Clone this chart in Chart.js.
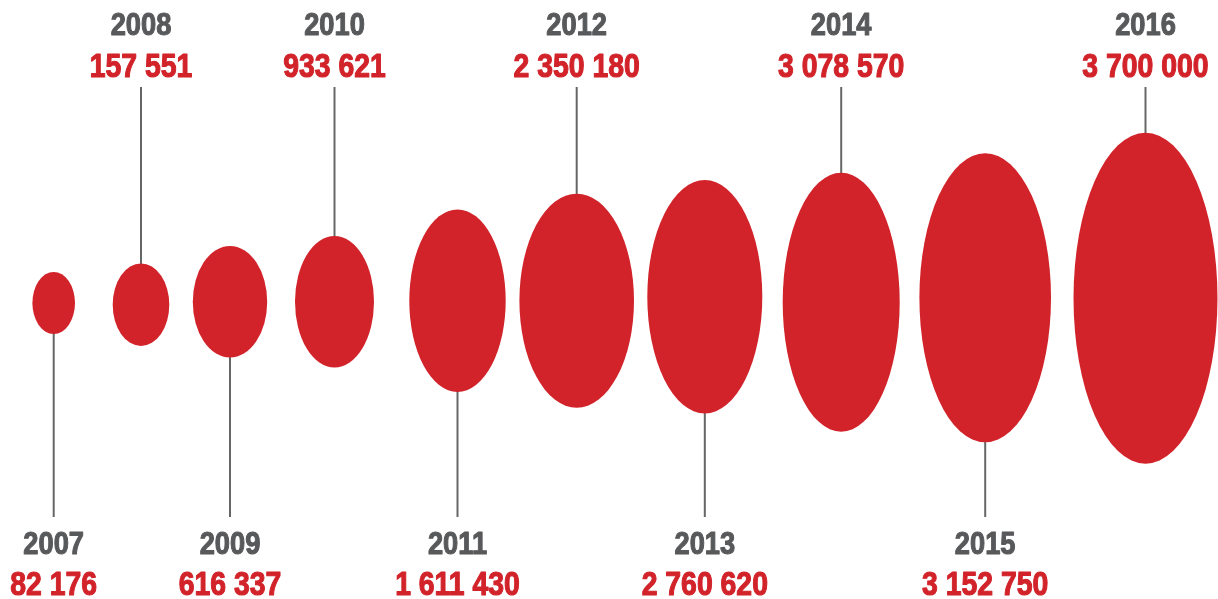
<!DOCTYPE html>
<html>
<head>
<meta charset="utf-8">
<title>2007-2016</title>
<script src="https://cdn.jsdelivr.net/npm/chart.js@4.4.1/dist/chart.umd.min.js"></script>
<style>
    html, body { margin: 0; padding: 0; background: #fff; }
    #wrap { position: relative; width: 1218px; height: 599px; }
</style>
</head>
<body>
<div id="wrap"><canvas id="bubbles"></canvas></div>
<script>
// values
const years = ['2007', '2008', '2009', '2010', '2011', '2012', '2013', '2014', '2015', '2016'];
const totals = [82176, 157551, 616337, 933621, 1611430, 2350180, 2760620, 3078570, 3152750, 3700000];
// ellipse centres and sizes in axis units (1 unit = 10 px on this canvas)
const centerX = [5.37, 14.1, 23.0, 33.45, 45.75, 57.67, 70.48, 84.12, 98.52, 114.55];
const centerY = [-0.35, -0.52, -0.23, -0.23, -0.12, -0.12, 0.28, -0.27, 0.17, 0.13];
const widths = [4.26, 5.66, 7.44, 7.9, 9.64, 11.46, 11.5, 11.7, 13.16, 14.4];
const heights = [6.2, 8.26, 11.16, 13.16, 18.26, 21.4, 23.34, 25.9, 28.9, 33.1];

const RED = '#d2232a';
const GREY = '#58595b';
const FONT = "'Liberation Sans', Arial, sans-serif";

function formatTotal(n) {
    return String(n).replace(/\B(?=(\d{3})+(?!\d))/g, ' ');
}

// no condensed heavy font installed, so squeeze a normal bold one and thicken it a bit
function condensedText(ctx, text, x, y, squeeze, color) {
    ctx.save();
    ctx.translate(x, y);
    ctx.scale(squeeze, 1);
    ctx.fillStyle = color;
    ctx.strokeStyle = color;
    ctx.lineWidth = 1.1;
    ctx.lineJoin = 'round';
    ctx.fillText(text, 0, 0);
    ctx.strokeText(text, 0, 0);
    ctx.restore();
}

// draws the ellipses, leader lines and labels at the points the scales give
const ellipsePlugin = {
    id: 'ellipses',
    afterDatasetsDraw(chart) {
        const ctx = chart.ctx;
        const xs = chart.scales.x;
        const ys = chart.scales.y;
        const meta = chart.getDatasetMeta(0);

        ctx.save();
        meta.data.forEach((pt, i) => {
            const rx = Math.abs(xs.getPixelForValue(centerX[i] + widths[i] / 2) - pt.x);
            const ry = Math.abs(ys.getPixelForValue(centerY[i] + heights[i] / 2) - pt.y);
            const up = i % 2 === 1;

            // leader line
            ctx.strokeStyle = '#666';
            ctx.lineWidth = 2;
            ctx.beginPath();
            if (up) {
                ctx.moveTo(pt.x, ys.getPixelForValue(21.25));
                ctx.lineTo(pt.x, pt.y - ry + 2);
            } else {
                ctx.moveTo(pt.x, pt.y + ry - 2);
                ctx.lineTo(pt.x, ys.getPixelForValue(-21.75));
            }
            ctx.stroke();

            // ellipse
            ctx.fillStyle = RED;
            ctx.beginPath();
            ctx.ellipse(pt.x, pt.y, rx, ry, 0, 0, Math.PI * 2);
            ctx.fill();

            // labels
            ctx.textAlign = 'center';
            ctx.textBaseline = 'alphabetic';
            const yearY = ys.getPixelForValue(up ? 26.45 : -25.45);
            const valY = ys.getPixelForValue(up ? 22.25 : -29.55);
            ctx.font = 'bold 31px ' + FONT;
            condensedText(ctx, years[i], pt.x, yearY, 0.88, GREY);
            ctx.font = 'bold 33px ' + FONT;
            condensedText(ctx, formatTotal(totals[i]), pt.x, valY, 0.86, RED);
        });
        ctx.restore();
    }
};

const ctx = document.getElementById('bubbles').getContext('2d');
new Chart(ctx, {
    type: 'scatter',
    data: {
        labels: years,
        datasets: [{
            label: 'Total',
            data: centerX.map((x, i) => ({ x: x, y: centerY[i], v: totals[i] })),
            pointRadius: 0,
            pointHoverRadius: 0
        }]
    },
    options: {
        responsive: true,
        maintainAspectRatio: false,
        animation: false,
        layout: { padding: 0 },
        plugins: {
            legend: { display: false },
            tooltip: { enabled: false }
        },
        scales: {
            x: { type: 'linear', min: 0, max: 121.8, display: false },
            y: { type: 'linear', min: -29.95, max: 29.95, display: false }
        }
    },
    plugins: [ellipsePlugin]
});
</script>
</body>
</html>
